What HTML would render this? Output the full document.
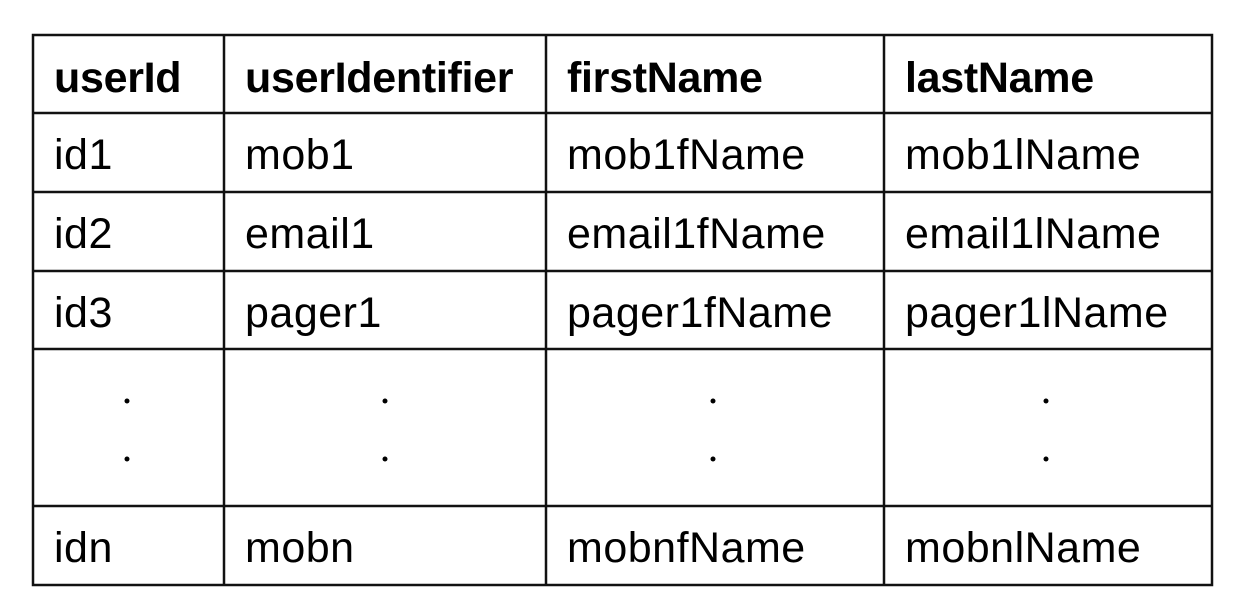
<!DOCTYPE html>
<html><head><meta charset="utf-8"><style>
html,body{margin:0;padding:0;background:#fff;}
svg{display:block}
text{font-family:"Liberation Sans",sans-serif;font-size:43px;fill:#000;letter-spacing:0.5px}
.b{font-weight:bold;letter-spacing:-0.3px}
</style></head><body>
<svg width="1246" height="612" viewBox="0 0 1246 612">
<g stroke="#111" stroke-width="2.5" fill="none">
<rect x="33" y="35" width="1179" height="550"/>
<line x1="224" y1="35" x2="224" y2="585"/>
<line x1="546" y1="35" x2="546" y2="585"/>
<line x1="884" y1="35" x2="884" y2="585"/>
<line x1="33" y1="113" x2="1212" y2="113"/>
<line x1="33" y1="192" x2="1212" y2="192"/>
<line x1="33" y1="271" x2="1212" y2="271"/>
<line x1="33" y1="349" x2="1212" y2="349"/>
<line x1="33" y1="506" x2="1212" y2="506"/>
</g>
<text class="b" x="54" y="92">userId</text>
<text class="b" x="245" y="92">userIdentifier</text>
<text class="b" x="567" y="92">firstName</text>
<text class="b" x="905" y="92">lastName</text>
<text x="54" y="169">id1</text><text x="245" y="169">mob1</text><text x="567" y="169">mob1fName</text><text x="905" y="169">mob1lName</text>
<text x="54" y="248">id2</text><text x="245" y="248">email1</text><text x="567" y="248">email1fName</text><text x="905" y="248">email1lName</text>
<text x="54" y="327">id3</text><text x="245" y="327">pager1</text><text x="567" y="327">pager1fName</text><text x="905" y="327">pager1lName</text>
<text x="54" y="562">idn</text><text x="245" y="562">mobn</text><text x="567" y="562">mobnfName</text><text x="905" y="562">mobnlName</text>
<g fill="#000">
<circle cx="127" cy="401" r="2.5"/><circle cx="127" cy="459" r="2.5"/>
<circle cx="385" cy="401" r="2.5"/><circle cx="385" cy="459" r="2.5"/>
<circle cx="713" cy="401" r="2.5"/><circle cx="713" cy="459" r="2.5"/>
<circle cx="1046" cy="401" r="2.5"/><circle cx="1046" cy="459" r="2.5"/>
</g>
</svg>
</body></html>
